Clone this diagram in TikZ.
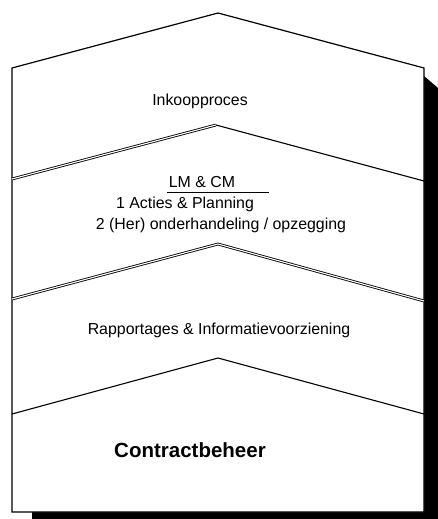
\documentclass[tikz,border=0pt]{standalone}
\usepackage{fontspec}
\setmainfont{Liberation Sans}
\begin{document}
\begin{tikzpicture}[
    x=1pt, y=-1pt,
    label/.style={anchor=base, inner sep=0pt, font=\fontsize{15.9}{19}\selectfont},
    title/.style={anchor=base, inner sep=0pt, font=\fontsize{20.5}{24}\selectfont\bfseries},
    edge/.style={draw=black, line width=1.2pt, line join=miter},
    divider/.style={draw=black, line width=1.1pt},
    doubled/.style={draw=black, line width=0.85pt, double=white, double distance=1.1pt}
]
\useasboundingbox (0,0) rectangle (438,519);

% corners of the house
\coordinate (peak) at (218,13);
\coordinate (shl) at (12,68);
\coordinate (shr) at (424,68);
\coordinate (bl) at (12,512);
\coordinate (br) at (424,512);

% shadow
\fill[black] (424,76) -- (438,88) -- (438,519) -- (32,519) -- (32,512) -- (424,512) -- cycle;
\filldraw[fill=white, edge] (bl) -- (shl) -- (peak) -- (shr) -- (br) -- cycle;

% dividers
\coordinate (aL) at (12,179);  \coordinate (aP) at (216,125); \coordinate (aR) at (424,181);
\coordinate (bL) at (12,299);  \coordinate (bP) at (218,244); \coordinate (bR) at (424,301);
\coordinate (cL) at (12,414);  \coordinate (cP) at (218,358); \coordinate (cR) at (424,414);

\draw[doubled] (aL) -- (aP);
\draw[divider] (aP) -- (aR);
\draw[doubled] (bL) -- (bP) -- (bR);
\draw[divider] (cL) -- (cP) -- (cR);

% texts
\node[label] (inkoop) at (200,105) {Inkoopproces};
\node[label] (lmcm) at (202,187) {LM \& CM};
\node[label] (acties) at (185,208) {1 Acties \& Planning};
\node[label] (onder) at (221,229) {2 (Her) onderhandeling / opzegging};
\node[label] (rapport) at (219,334) {Rapportages \& Informatievoorziening};
\node[title] (beheer) at (190,457) {Contractbeheer};

\coordinate (ulL) at (167,192);
\coordinate (ulR) at (269,192);
\draw[line width=0.9pt] (ulL) -- (ulR);
\end{tikzpicture}
\end{document}
